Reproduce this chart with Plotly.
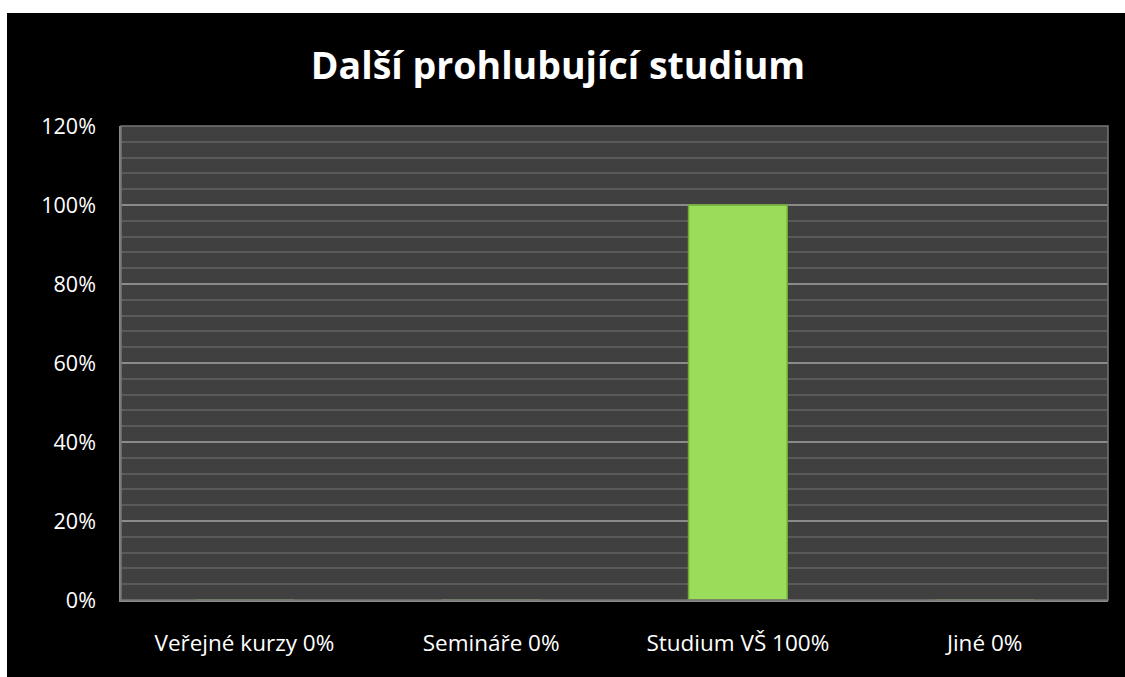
import plotly.graph_objects as go

categories = ["Veřejné kurzy 0%", "Semináře 0%", "Studium VŠ 100%", "Jiné 0%"]
values = [0.0, 0.0, 1.0, 0.0]
y_tickvals = [0, 0.2, 0.4, 0.6, 0.8, 1.0, 1.2]
title_text = "Další prohlubující studium"

W, H = 1125, 677
L, R, T, B = 121, 17, 126, 77

fig = go.Figure()
fig.add_trace(go.Bar(
    x=categories, y=values,
    marker=dict(color="#9BDD5A", line=dict(color="#6FAE36", width=1.5)),
    width=0.4,
    hoverinfo="x+y",
))

fig.update_layout(
    width=W, height=H,
    margin=dict(l=L, r=R, t=T, b=B),
    paper_bgcolor="#000000",
    plot_bgcolor="#404040",
    showlegend=False,
    title=dict(text="<b>" + title_text + "</b>", x=558 / W, xanchor="center",
               y=1 - 66 / H, yanchor="middle", xref="container", yref="container",
               font=dict(family="Open Sans, Lato, sans-serif", size=37.5, color="#FFFFFF")),
    font=dict(family="Open Sans, Lato, sans-serif", color="#FFFFFF"),
    bargap=0.6,
    xaxis=dict(
        showgrid=False, zeroline=False,
        showline=True, linecolor="#8A8A8A", linewidth=2, mirror=False,
        ticks="", tickfont=dict(size=22.5, color="#FFFFFF"), ticklabelstandoff=22,
        fixedrange=True,
    ),
    yaxis=dict(
        range=[0, 1.2], tickvals=y_tickvals, tickformat=".0%",
        showgrid=True, gridcolor="#8A8A8A", gridwidth=1.5,
        minor=dict(dtick=0.04, showgrid=True, gridcolor="#5A5A5A", gridwidth=1.5),
        zeroline=False,
        showline=True, linecolor="#8A8A8A", linewidth=1.5, mirror=False,
        ticks="", tickfont=dict(size=21.5, color="#FFFFFF"), ticklabelstandoff=19,
        fixedrange=True,
    ),
    shapes=[
        dict(type="rect", xref="paper", yref="paper", x0=0, x1=1, y0=0, y1=1,
             line=dict(color="#767676", width=1.5), fillcolor="rgba(0,0,0,0)", layer="above"),
        dict(type="rect", xref="paper", yref="paper",
             x0=-L / (W - L - R), x1=(W - L) / (W - L - R),
             y0=1 + (T - 13) / (H - T - B), y1=1 + T / (H - T - B),
             line=dict(width=0), fillcolor="#FFFFFF", layer="above"),
        dict(type="rect", xref="paper", yref="paper",
             x0=-L / (W - L - R), x1=-(L - 7) / (W - L - R),
             y0=-B / (H - T - B), y1=1 + T / (H - T - B),
             line=dict(width=0), fillcolor="#FFFFFF", layer="above"),
    ],
)

fig.write_html("out.html")
